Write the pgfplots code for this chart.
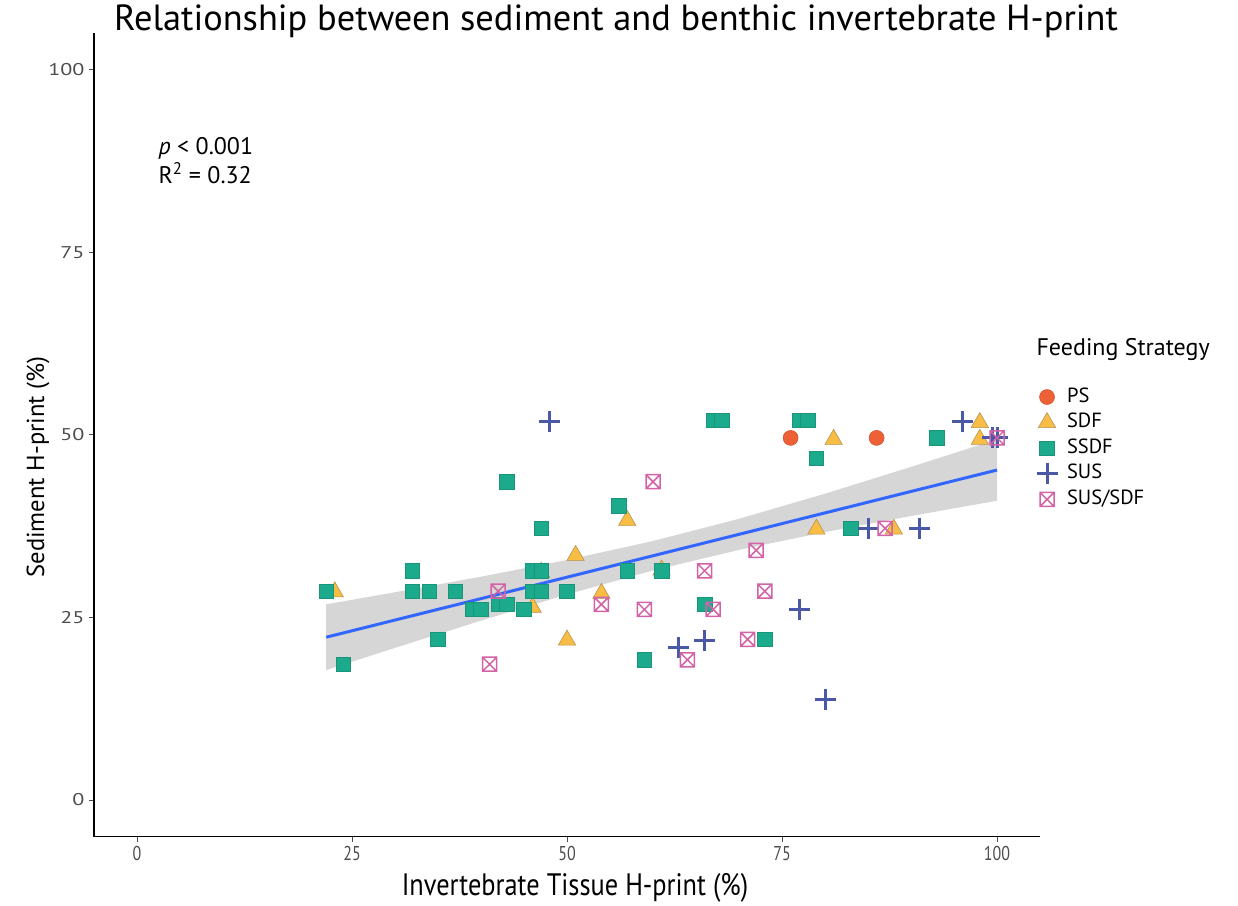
\documentclass[border=0pt]{standalone}
\usepackage{fontspec}
\setmainfont{PT Sans}
\usepackage{pgfplots}
\pgfplotsset{compat=1.18}
\definecolor{ps}{HTML}{EE6035}
\definecolor{sdf}{HTML}{F8BD45}
\definecolor{sdfd}{HTML}{B8914A}
\definecolor{ssdf}{HTML}{1BAA8B}
\definecolor{ssdfd}{HTML}{1A957A}
\definecolor{sus}{HTML}{4A58A6}
\definecolor{susdf}{HTML}{D462A6}
\definecolor{fitline}{HTML}{3366FF}
\definecolor{tickgray}{HTML}{4D4D4D}
\pgfdeclareplotmark{boxx}{%
  \pgfpathrectangle{\pgfpoint{-\pgfplotmarksize}{-\pgfplotmarksize}}{\pgfpoint{2\pgfplotmarksize}{2\pgfplotmarksize}}%
  \pgfpathmoveto{\pgfpoint{-\pgfplotmarksize}{-\pgfplotmarksize}}%
  \pgfpathlineto{\pgfpoint{\pgfplotmarksize}{\pgfplotmarksize}}%
  \pgfpathmoveto{\pgfpoint{-\pgfplotmarksize}{\pgfplotmarksize}}%
  \pgfpathlineto{\pgfpoint{\pgfplotmarksize}{-\pgfplotmarksize}}%
  \pgfusepathqstroke}
\begin{document}
\begin{tikzpicture}[x=1pt,y=1pt]
\useasboundingbox (0,0) rectangle (1238,905);
\begin{axis}[
  at={(94pt,68.5pt)}, anchor=south west,
  scale only axis, width=946pt, height=803pt,
  xmin=-5, xmax=105, ymin=-5, ymax=105,
  axis x line*=bottom, axis y line*=left,
  axis line style={line width=1.3pt, black},
  xtick={0,25,50,75,100}, ytick={0,25,50,75,100},
  tick align=outside, major tick length=5pt,
  tick style={line width=1pt, tickgray},
  /pgf/number format/assume math mode=true,
  xticklabel style={font=\fontsize{20}{24}\selectfont, text=tickgray, xscale=0.8, yshift=-1pt},
  yticklabel style={font=\fontsize{17}{20}\selectfont, text=tickgray, xscale=1.3},
  clip=false,
  legend image code/.code={%
    \path[draw=none, fill=none] (-11pt,-11pt) rectangle (11pt,11pt);
    \draw[mark repeat=2,mark phase=2,#1] plot coordinates {(-5pt,0pt)(0pt,0pt)(5pt,0pt)};},
  legend style={at={(0.9958,0.561)}, anchor=north west, draw=none, fill=none,
    inner sep=0pt, outer sep=0pt, font=\fontsize{20.5}{24}\selectfont,
    nodes={inner sep=0pt, text height=14pt, text depth=4pt},
    /tikz/column sep=9pt, /tikz/row sep=3.6pt},
  legend cell align=left,
]
\addplot[only marks, mark=*, mark size=7.5pt, mark options={fill=ps, draw=ps!85!black, line width=0.5pt}]
  coordinates {(76,49.6)(86,49.6)};
\addlegendentry{PS}
\addplot[only marks, mark=triangle*, mark size=10pt, mark options={fill=sdf, draw=sdfd, line width=0.6pt}]
  coordinates {(23,28.5)(46,26.4)(47,31.2)(50,21.9)(51,33.5)(54,28.3)(57,38.3)(61,31.5)(79,37.1)(81,49.4)(88,37.1)(98,51.7)(98,49.4)};
\addlegendentry{SDF}
\addplot[only marks, mark=square*, mark size=7.3pt, mark options={fill=ssdf, draw=ssdfd, line width=0.6pt}]
  coordinates {(22,28.6)(24,18.6)(32,31.4)(32,28.6)(34,28.6)(35,22)(37,28.6)(39,26.1)(40,26.1)(42,26.8)(43,26.8)(43,43.6)(45,26.1)(46,28.6)(46,31.4)(47,31.4)(47,28.6)(47,37.2)(50,28.6)(56,40.3)(57,31.4)(61,31.4)(66,26.8)(59,19.2)(67,52)(68,52)(73,22)(77,52)(78,52)(79,46.8)(83,37.2)(93,49.6)};
\addlegendentry{SSDF}
\addplot[only marks, mark=+, mark size=10.5pt, mark options={draw=sus, line width=3pt}]
  coordinates {(48,51.8)(63,20.9)(66,21.9)(77,26.1)(80,13.8)(85,37.2)(91,37.2)(96,51.8)(99.5,49.6)(100,49.6)};
\addlegendentry{SUS}
\addplot[only marks, mark=boxx, mark size=7pt, mark options={draw=susdf, line width=1.5pt}]
  coordinates {(41,18.6)(42,28.6)(54,26.8)(59,26.1)(60,43.6)(64,19.2)(66,31.4)(67,26.1)(71,22)(72,34.2)(73,28.6)(87,37.2)(100,49.6)};
\addlegendentry{SUS/SDF}
\addplot[fill=black!40, fill opacity=0.4, draw=none, forget plot] coordinates {
  (22,26.80)(30,28.46)(40,30.59)(50,32.88)(60,35.48)(70,38.52)(80,41.96)(90,45.63)(100,49.40)
  (100,41.00)(90,38.90)(80,36.70)(70,34.26)(60,31.44)(50,28.16)(40,24.57)(30,20.84)(22,17.80)} -- cycle;
\addplot[fitline, line width=3pt, forget plot] coordinates {(22,22.30)(100,45.20)};
\node[anchor=base west, font=\fontsize{24}{28}\selectfont] at (axis cs:2.1,88.4) {\textit{p} < 0.001};
\node[anchor=base west, font=\fontsize{24}{28}\selectfont] at (axis cs:2.1,84.4) {R\textsuperscript{2} = 0.32};
\end{axis}
\node[anchor=base, font=\fontsize{36.4}{43}\selectfont] at (616,874) {Relationship between sediment and benthic invertebrate H-print};
\node[anchor=base, font=\fontsize{31}{37}\selectfont, xscale=0.85] at (575,10) {Invertebrate Tissue H-print (\%)};
\node[anchor=base, rotate=90, font=\fontsize{24.6}{29}\selectfont] at (44,438) {Sediment H-print (\%)};
\node[anchor=base west, font=\fontsize{24}{28}\selectfont] at (1033,549) {Feeding Strategy};
\end{tikzpicture}
\end{document}
